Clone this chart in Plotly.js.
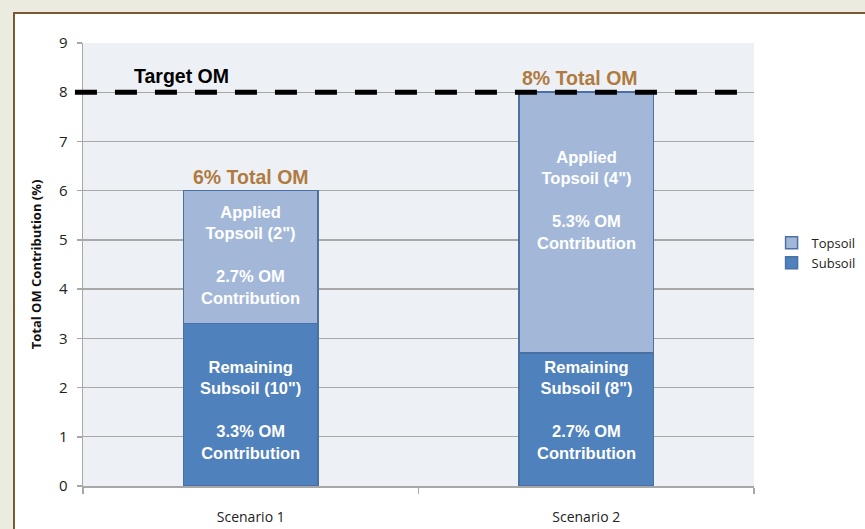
<!DOCTYPE html>
<html>
<head>
<meta charset="utf-8">
<script src="https://cdn.plot.ly/plotly-3.0.1.min.js"></script>
<style>
  html, body { margin: 0; padding: 0; width: 865px; height: 529px; overflow: hidden; background: #ebebe0; }
  #frame { position: absolute; left: 13px; top: 12px; width: 900px; height: 600px; background: #ffffff;
           border-left: 2px solid #7b5a33; border-top: 2px solid #7b5a33; }
  #chart { position: absolute; left: 0; top: 0; width: 865px; height: 529px; }
</style>
</head>
<body>
<div id="frame"></div>
<div id="chart"></div>
<script>
// ---- data ----
const scenarios = ["Scenario 1", "Scenario 2"];
const subsoilValues = [3.3, 2.7];
const topsoilValues = [2.7, 5.3];
const subsoilDepths = ['10"', '8"'];
const topsoilDepths = ['2"', '4"'];
const targetOM = 8;
const yTicks = [0, 1, 2, 3, 4, 5, 6, 7, 8, 9];

// ---- traces ----
const barLine = { color: "#4a70a5", width: 1.5 };
const traces = [
  {
    type: "bar", name: "Subsoil", x: scenarios, y: subsoilValues,
    marker: { color: "#4f81bd", line: barLine },
    hoverinfo: "skip"
  },
  {
    type: "bar", name: "Topsoil", x: scenarios, y: topsoilValues,
    marker: { color: "#a3b8d9", line: barLine },
    hoverinfo: "skip"
  }
];

// ---- in-bar labels (positions, in data units) ----
const subLabelY = [1.54, 1.54];
const topLabelY = [4.7, 5.81];
const labelFont = { family: "Liberation Sans, Arial, sans-serif", size: 16.5, color: "#ffffff" };
const annotations = [];
scenarios.forEach((s, i) => {
  annotations.push({
    x: s, y: subLabelY[i], xref: "x", yref: "y", showarrow: false,
    text: "<b>Remaining<br>Subsoil (" + subsoilDepths[i] + ")<br><br>" + subsoilValues[i].toFixed(1) + "% OM<br>Contribution</b>",
    font: labelFont, align: "center"
  });
  annotations.push({
    x: s, y: topLabelY[i], xref: "x", yref: "y", showarrow: false,
    text: "<b>Applied<br>Topsoil (" + topsoilDepths[i] + ")<br><br>" + topsoilValues[i].toFixed(1) + "% OM<br>Contribution</b>",
    font: labelFont, align: "center"
  });
  const total = subsoilValues[i] + topsoilValues[i];
  annotations.push({
    x: s, y: total, xref: "x", yref: "y", showarrow: false, yanchor: "bottom", yshift: 1,
    xshift: i === 1 ? -6 : 0,
    text: "<b>" + Math.round(total) + "% Total OM</b>",
    font: { family: "Liberation Sans, Arial, sans-serif", size: 19.5, color: "#b07b40" }
  });
});
annotations.push({
  x: 0.147, xref: "paper", xanchor: "center", y: targetOM, yref: "y", showarrow: false, yanchor: "bottom", yshift: 3,
  text: "<b>Target OM</b>",
  font: { family: "Liberation Sans, Arial, sans-serif", size: 19.5, color: "#000000" }
});

const layout = {
  width: 865, height: 529,
  margin: { l: 83, r: 111, t: 43, b: 43, pad: 0, autoexpand: false },
  paper_bgcolor: "rgba(0,0,0,0)",
  plot_bgcolor: "#edf1f6",
  barmode: "stack",
  bargap: 0.6,
  showlegend: true,
  legend: {
    xref: "container", yref: "container",
    x: 0.892, y: 0.522, xanchor: "left", yanchor: "middle",
    traceorder: "reversed", bgcolor: "rgba(0,0,0,0)",
    font: { family: "Open Sans, Liberation Sans, sans-serif", size: 13, color: "#222222" },
    itemwidth: 30, tracegroupgap: 0
  },
  xaxis: {
    type: "category",
    showgrid: false, zeroline: false,
    showline: true, linecolor: "#a8a8a8", linewidth: 1.5,
    ticks: "outside", tickson: "boundaries", ticklen: 6, tickcolor: "#a8a8a8", tickwidth: 1.5,
    ticklabelstandoff: 18,
    tickfont: { family: "Open Sans, Liberation Sans, sans-serif", size: 14, color: "#222222" }
  },
  yaxis: {
    range: [0, 9], tickvals: yTicks, ticktext: yTicks.map(String),
    showgrid: true, gridcolor: "#a8a8a8", gridwidth: 1.3,
    zeroline: false, showline: true, linecolor: "#a8a8a8", linewidth: 1.5,
    ticks: "outside", ticklen: 5, tickcolor: "#a8a8a8", tickwidth: 1.5,
    ticklabelstandoff: 6,
    tickfont: { family: "Open Sans, Liberation Sans, sans-serif", size: 15, color: "#222222" },
    title: {
      text: "<b>Total OM Contribution (%)</b>", standoff: 14,
      font: { family: "Open Sans, Liberation Sans, sans-serif", size: 13, color: "#111111" }
    }
  },
  shapes: [
    {
      type: "line", xref: "paper", yref: "y",
      x0: -0.012, x1: 0.985, y0: targetOM, y1: targetOM,
      line: { color: "#000000", width: 5, dash: "22px,18px" },
      layer: "above"
    }
  ],
  annotations: annotations
};

Plotly.newPlot("chart", traces, layout, { displayModeBar: false, staticPlot: true });
</script>
</body>
</html>
